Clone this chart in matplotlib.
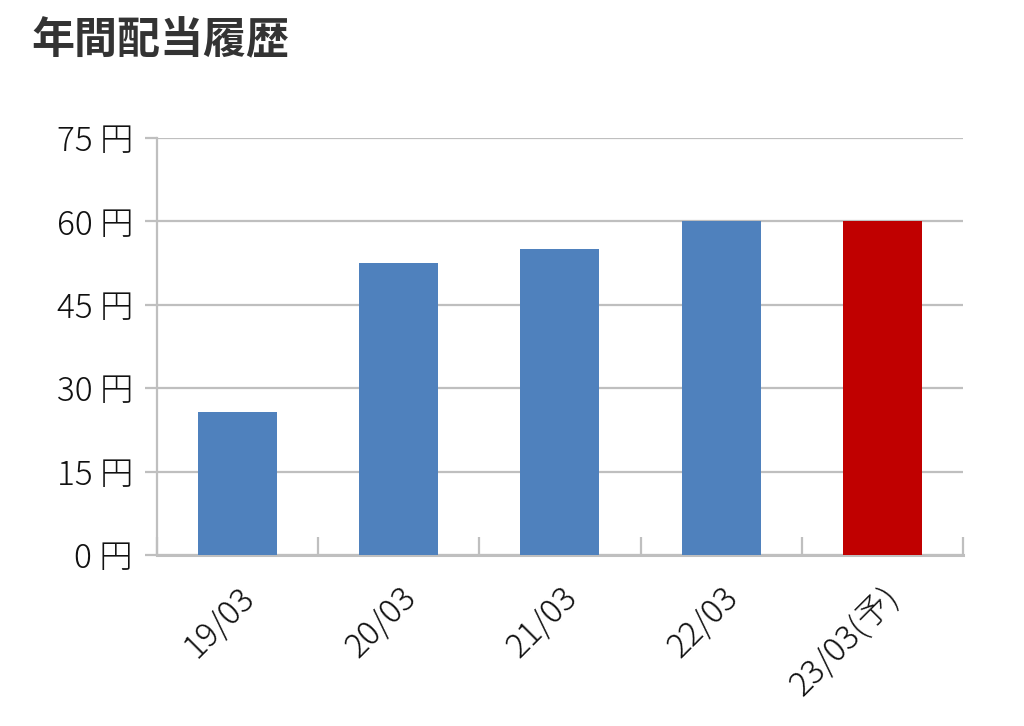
import matplotlib.pyplot as plt
from matplotlib.ticker import FixedLocator

plt.rcParams['font.family'] = ['Noto Sans CJK JP', 'DejaVu Sans']

years = ['19/03', '20/03', '21/03', '22/03', '23/03(予)']
dividends = [25.75, 52.5, 55, 60, 60]
colors = ['#4F81BD', '#4F81BD', '#4F81BD', '#4F81BD', '#C00000']
yticks = [0, 15, 30, 45, 60, 75]

grey = '#BFBFBF'

fig = plt.figure(figsize=(10.24, 7.26), dpi=100)
ax = fig.add_axes([0.1533, 0.2355, 0.7871, 0.5744])

x = range(len(years))
ax.bar(x, dividends, width=0.49, color=colors, zorder=3)

ax.set_xlim(-0.5, len(years) - 0.5)
ax.set_ylim(0, 75)
ax.set_yticks(yticks)
ax.set_yticklabels(['{} 円'.format(v) for v in yticks], fontsize=24,
                   fontweight='light', color='#111111')
ax.yaxis.grid(True, color=grey, linewidth=1.6, zorder=0)
ax.tick_params(axis='y', length=8.6, width=1.6, color=grey, pad=8.6)

# category labels at bar centres, tick marks at category boundaries
ax.set_xticks(list(x))
ax.set_xticklabels(years, fontsize=24, fontweight='light', rotation=45, ha='right',
                   va='top', rotation_mode='anchor', color='#111111')
ax.tick_params(axis='x', length=0, pad=18)
ax.xaxis.set_minor_locator(FixedLocator([i - 0.5 for i in range(len(years) + 1)]))
ax.tick_params(axis='x', which='minor', direction='in', length=13, width=1.6, color=grey)

for side in ['top', 'right']:
    ax.spines[side].set_visible(False)
ax.spines['left'].set_color(grey)
ax.spines['left'].set_linewidth(1.6)
ax.spines['bottom'].set_color(grey)
ax.spines['bottom'].set_linewidth(2.2)

fig.text(0.031, 0.945, '年間配当履歴', fontsize=31, fontweight='bold', color='#333333', va='center')

plt.savefig('out.png', dpi=100)
